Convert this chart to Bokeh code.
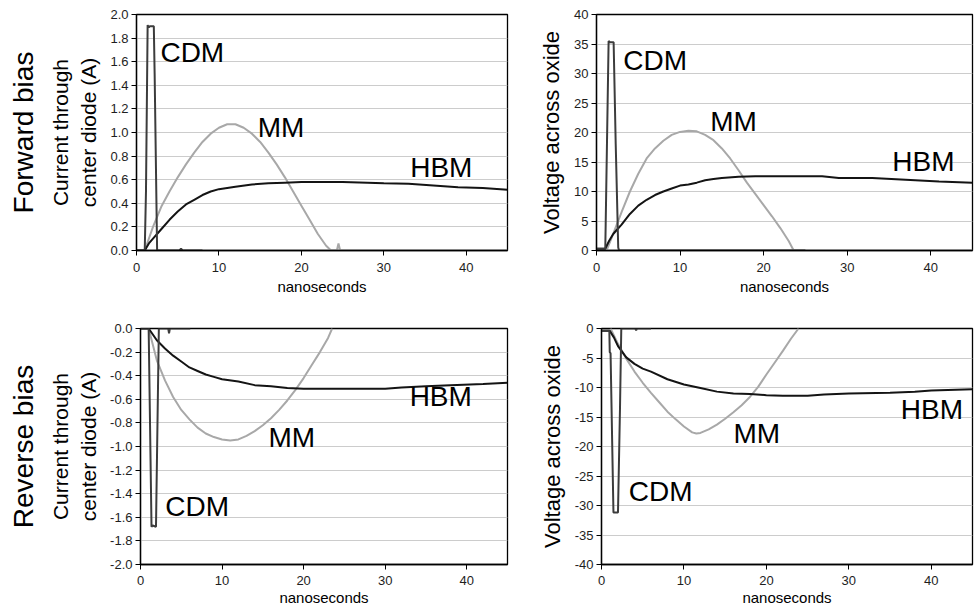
from bokeh.plotting import figure
from bokeh.layouts import column, row
from bokeh.models import Range1d, FixedTicker, PrintfTickFormatter, Label, Title
from bokeh.embed import file_html
from bokeh.resources import INLINE

FONT = "Liberation Sans"

# ---------------- data ----------------
X_TICKS = [0, 10, 20, 30, 40]

# Forward bias - current through center diode (A)
fi_ticks = [0.0, 0.2, 0.4, 0.6, 0.8, 1.0, 1.2, 1.4, 1.6, 1.8, 2.0]
fi_hbm_t = [0, 1.0, 1.5, 2, 3, 4, 5, 6, 7, 8, 9, 10, 12, 14, 16, 18, 20, 25, 28, 30, 33, 36, 39, 42, 45]
fi_hbm = [0, 0, 0.06, 0.1, 0.18, 0.26, 0.33, 0.39, 0.43, 0.47, 0.5, 0.52, 0.54, 0.56, 0.57, 0.575, 0.58, 0.58, 0.575, 0.57, 0.565, 0.55, 0.535, 0.53, 0.515]
fi_mm_t = [1.0, 2, 3, 4, 5, 6, 7, 8, 9, 10, 11, 12, 13, 14, 15, 16, 17, 18, 19, 20, 21, 22, 23, 23.6, 24.3, 24.5, 24.7, 45]
fi_mm = [0, 0.2, 0.37, 0.5, 0.62, 0.73, 0.83, 0.92, 0.99, 1.04, 1.07, 1.07, 1.04, 0.99, 0.92, 0.83, 0.73, 0.62, 0.5, 0.38, 0.26, 0.14, 0.04, 0, 0, 0.06, 0, 0]
fi_cdm_t = [0, 1.0, 1.15, 1.35, 1.5, 1.6, 2.1, 2.2, 2.5, 5.2, 5.4, 5.6, 8]
fi_cdm = [0, 0, 0.5, 1.91, 1.89, 1.9, 1.9, 1.5, 0, 0, 0.015, 0, 0]

# Forward bias - voltage across oxide
fv_ticks = [0, 5, 10, 15, 20, 25, 30, 35, 40]
fv_hbm_t = [0, 1.05, 1.5, 2, 2.5, 3, 4, 5, 6, 7, 8, 9, 10, 11, 12, 13, 14, 15, 17, 19, 22, 27, 29, 33, 37, 41, 45]
fv_hbm = [0.3, 0.3, 1.6, 2.8, 3.6, 4.4, 6.2, 7.6, 8.6, 9.4, 10.0, 10.5, 11.0, 11.2, 11.5, 11.9, 12.1, 12.3, 12.5, 12.6, 12.6, 12.6, 12.3, 12.3, 12.0, 11.7, 11.5]
fv_mm_t = [1.2, 2, 3, 4, 5, 6, 7, 8, 9, 10, 11, 12, 13, 14, 15, 16, 17, 18, 19, 20, 21, 22, 23, 23.6, 45]
fv_mm = [0, 2.8, 6.5, 10, 13, 15.6, 17.3, 18.6, 19.6, 20.1, 20.3, 20.2, 19.6, 18.7, 17.3, 15.6, 13.6, 11.5, 9.6, 7.7, 5.8, 3.8, 1.6, 0, 0]
fv_cdm_t = [0, 1.05, 1.1, 1.45, 1.6, 2.05, 2.3, 2.6, 2.7, 25]
fv_cdm = [0.3, 0.3, 4.5, 35.5, 35.3, 35.3, 18, 0.5, 0, 0]

# Reverse bias - current through center diode (A)
ri_ticks = [-2.0, -1.8, -1.6, -1.4, -1.2, -1.0, -0.8, -0.6, -0.4, -0.2, 0.0]
ri_hbm_t = [0, 1, 2, 3, 4, 5, 6, 7, 8, 9, 10, 12, 14, 16, 18, 20, 25, 30, 32, 35, 38, 42, 45]
ri_hbm = [0, 0, -0.1, -0.17, -0.23, -0.28, -0.33, -0.36, -0.39, -0.41, -0.43, -0.45, -0.48, -0.49, -0.505, -0.51, -0.51, -0.51, -0.5, -0.49, -0.48, -0.47, -0.46]
ri_mm_t = [1, 2, 3, 4, 5, 6, 7, 8, 9, 10, 11, 12, 13, 14, 15, 16, 17, 18, 19, 20, 21, 22, 23, 23.5]
ri_mm = [0, -0.27, -0.44, -0.58, -0.69, -0.77, -0.84, -0.89, -0.92, -0.94, -0.95, -0.94, -0.91, -0.87, -0.82, -0.76, -0.69, -0.61, -0.52, -0.42, -0.31, -0.2, -0.08, 0]
ri_cdm_t = [0, 1.0, 1.35, 1.5, 1.9, 2.25, 3.4, 3.5, 3.6, 6.1]
ri_cdm = [0, 0, -1.68, -1.67, -1.68, 0, 0, -0.04, 0, 0]

# Reverse bias - voltage across oxide
rv_ticks = [-40, -35, -30, -25, -20, -15, -10, -5, 0]
rv_hbm_t = [0, 1, 1.5, 2, 3, 4, 5, 6, 8, 10, 12, 14, 16, 18, 20, 22, 25, 27, 30, 35, 38, 40, 45]
rv_hbm = [-0.4, -0.4, -1.5, -3, -4.9, -6, -6.8, -7.3, -8.6, -9.5, -10.1, -10.7, -11.0, -11.1, -11.3, -11.4, -11.4, -11.2, -11.0, -10.9, -10.7, -10.5, -10.3]
rv_mm_t = [1.1, 2, 3, 4, 5, 6, 7, 8, 9, 10, 11, 11.5, 12, 13, 14, 15, 16, 17, 18, 19, 20, 21, 22, 23, 23.9]
rv_mm = [0, -2.6, -5.1, -7.3, -9.2, -10.9, -12.5, -14.1, -15.4, -16.6, -17.6, -17.8, -17.7, -17.1, -16.3, -15.3, -14.2, -13.0, -11.6, -9.9, -7.8, -5.8, -3.8, -1.7, 0]
rv_cdm_t = [0, 0.95, 1.0, 1.1, 1.45, 2.0, 2.25, 2.4, 4.1, 4.2, 4.3, 6]
rv_cdm = [-0.4, -0.4, -4, -4.2, -31.2, -31.2, -13, 0, 0, -0.3, 0, 0]

SERIES_NAMES = ["HBM", "MM", "CDM"]

# ---------------- styling ----------------
C_HBM = "#141414"
C_MM = "#a8a8a8"
C_CDM = "#3c3c3c"


def make_panel(width, height, borders, yr, yticks, yfmt, ylabel, ylabel_size,
               hbm, mm, cdm, label_pos, side_titles=None, xstand=(7, 3)):
    bl, br, bt, bb = borders
    p = figure(width=width, height=height, x_range=Range1d(0, 45), y_range=Range1d(*yr),
               output_backend="svg", toolbar_location=None,
               min_border_left=bl, min_border_right=br, min_border_top=bt, min_border_bottom=bb,
               background_fill_color="white", border_fill_color="white")
    p.outline_line_color = "black"
    p.outline_line_width = 1.3
    p.xgrid.visible = False
    yt = FixedTicker(ticks=yticks)
    p.yaxis.ticker = yt
    p.ygrid.ticker = yt
    p.ygrid.grid_line_color = "#cccccc"
    p.ygrid.grid_line_width = 1
    p.yaxis.formatter = PrintfTickFormatter(format=yfmt)
    p.xaxis.ticker = FixedTicker(ticks=X_TICKS)
    for ax in (p.xaxis[0], p.yaxis[0]):
        ax.axis_line_color = "black"
        ax.axis_line_width = 1.3
        ax.major_tick_line_color = "black"
        ax.major_tick_line_width = 1
        ax.major_tick_out = 5
        ax.major_tick_in = 0
        ax.minor_tick_out = 0
        ax.minor_tick_in = 0
        ax.major_label_text_font = FONT
        ax.major_label_text_font_size = "13px"
        ax.major_label_text_color = "#1e1e1e"
        ax.axis_label_text_font = FONT
        ax.axis_label_text_font_style = "normal"
        ax.axis_label_text_color = "black"
    p.xaxis.major_label_standoff = xstand[0]
    p.yaxis.major_label_standoff = 3
    p.xaxis.axis_label = "nanoseconds"
    p.xaxis.axis_label_text_font_size = "15px"
    p.xaxis.axis_label_standoff = xstand[1]
    p.yaxis.axis_label = ylabel
    p.yaxis.axis_label_text_font_size = ylabel_size
    p.yaxis.axis_label_standoff = 7

    p.line(mm[0], mm[1], line_color=C_MM, line_width=2)
    p.line(hbm[0], hbm[1], line_color=C_HBM, line_width=2)
    p.line(cdm[0], cdm[1], line_color=C_CDM, line_width=2)

    for name in SERIES_NAMES:
        lx, ly = label_pos[name]
        p.add_layout(Label(x=lx, y=ly, text=name, text_font=FONT, text_font_size="28px",
                           text_baseline="alphabetic", text_align="left", text_color="black"))

    if side_titles:
        for txt, size, so in side_titles:
            p.add_layout(Title(text=txt, align="center", text_font=FONT, text_font_size=size,
                               text_font_style="normal", text_color="black", standoff=so), "left")
    return p


p1 = make_panel(510, 300, (133, 3, 14, 50), (0, 2), fi_ticks, "%.1f", "center diode (A)", "21px",
                (fi_hbm_t, fi_hbm), (fi_mm_t, fi_mm), (fi_cdm_t, fi_cdm),
                {"CDM": (2.9, 1.675), "MM": (14.7, 1.045), "HBM": (33.2, 0.705)},
                side_titles=[("Current through", "21px", 6), ("Forward bias", "28px", 10)])
p2 = make_panel(464, 300, (86, 2, 14, 50), (0, 40), fv_ticks, "%d", "Voltage across oxide", "22px",
                (fv_hbm_t, fv_hbm), (fv_mm_t, fv_mm), (fv_cdm_t, fv_cdm),
                {"CDM": (3.2, 32.2), "MM": (13.6, 21.9), "HBM": (35.4, 15.1)})
p3 = make_panel(510, 309, (138, 3, 28, 45), (-2, 0), ri_ticks, "%.1f", "center diode (A)", "21px",
                (ri_hbm_t, ri_hbm), (ri_mm_t, ri_mm), (ri_cdm_t, ri_cdm),
                {"CDM": (3.05, -1.505), "MM": (15.7, -0.925), "HBM": (33.0, -0.575)},
                side_titles=[("Current through", "21px", 6), ("Reverse bias", "28px", 10)],
                xstand=(6, 1))
p4 = make_panel(464, 309, (91, 2, 28, 45), (-40, 0), rv_ticks, "%d", "Voltage across oxide", "22px",
                (rv_hbm_t, rv_hbm), (rv_mm_t, rv_mm), (rv_cdm_t, rv_cdm),
                {"CDM": (3.3, -27.6), "MM": (16.0, -17.8), "HBM": (36.3, -13.7)},
                xstand=(6, 1))

layout = column(row(p1, p2, spacing=0), row(p3, p4, spacing=0), spacing=0)
open("out.html", "w").write(file_html(layout, INLINE))
